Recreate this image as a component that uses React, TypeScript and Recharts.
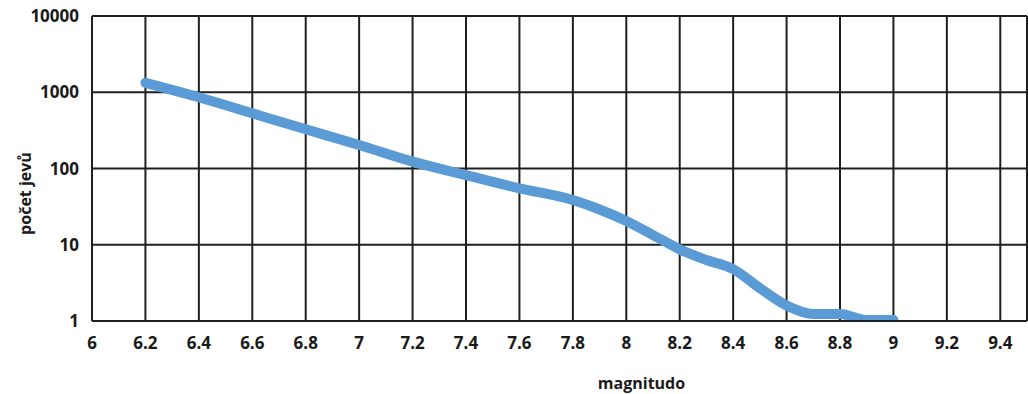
import { LineChart, Line, XAxis, YAxis, CartesianGrid } from "recharts";

const magnitudes = [6.2, 6.4, 6.6, 6.8, 7.0, 7.2, 7.4, 7.6, 7.8, 7.9, 8.0, 8.1, 8.2, 8.3, 8.4, 8.5, 8.6, 8.7, 8.8, 8.9, 9.0];
const eventCounts = [1330, 860, 530, 327, 203, 123, 82, 55, 38.6, 29, 20.5, 13.4, 8.7, 6.3, 4.8, 2.7, 1.6, 1.24, 1.24, 1.03, 1.03];

const xTicks = [6, 6.2, 6.4, 6.6, 6.8, 7, 7.2, 7.4, 7.6, 7.8, 8, 8.2, 8.4, 8.6, 8.8, 9, 9.2, 9.4];
const yTicks = [1, 10, 100, 1000, 10000];

const GRID = "#1f1f1f";
const TEXT = "#1a1a1a";
const LINE_COLOR = "#5B9BD5";
const FONT = "'Open Sans', sans-serif";

const data = magnitudes.map((m, i) => ({ m, n: eventCounts[i] }));

export default function App() {
  return (
    <div style={{ position: "absolute", left: 0, top: 0, background: "#fff" }}>
      <LineChart
        width={1028}
        height={394}
        data={data}
        margin={{ top: 16, right: 1, bottom: 0, left: 0 }}
      >
        <CartesianGrid stroke={GRID} strokeWidth={2} />
        <XAxis
          dataKey="m"
          type="number"
          domain={[6, 9.5]}
          ticks={xTicks}
          allowDataOverflow
          height={73}
          tickSize={0}
          tickMargin={16}
          axisLine={{ stroke: GRID, strokeWidth: 2 }}
          tickLine={false}
          tick={{ fontSize: 17, fontWeight: 700, fill: TEXT, fontFamily: FONT }}
          label={(p: any) => {
            const vb = p.viewBox;
            return (
              <text
                x={vb.x + vb.width / 2 + 82}
                y={vb.y + vb.height - 5}
                textAnchor="middle"
                fontSize={16}
                fontWeight={700}
                fill={TEXT}
                fontFamily={FONT}
              >
                magnitudo
              </text>
            );
          }}
        />
        <YAxis
          scale="log"
          domain={[1, 10000]}
          ticks={yTicks}
          allowDataOverflow
          width={92}
          tickSize={0}
          tickMargin={13}
          axisLine={{ stroke: GRID, strokeWidth: 2 }}
          tickLine={false}
          tick={{ fontSize: 17, fontWeight: 700, fill: TEXT, fontFamily: FONT }}
          label={(p: any) => {
            const vb = p.viewBox;
            const cx = vb.x + 25;
            const cy = vb.y + vb.height / 2 + 25;
            return (
              <text
                x={cx}
                y={cy}
                transform={`rotate(-90 ${cx} ${cy})`}
                textAnchor="middle"
                dominantBaseline="central"
                fontSize={16}
                fontWeight={700}
                fill={TEXT}
                fontFamily={FONT}
              >
                počet jevů
              </text>
            );
          }}
        />
        <Line
          dataKey="n"
          type="monotone"
          stroke={LINE_COLOR}
          strokeWidth={10}
          strokeLinecap="round"
          dot={false}
          isAnimationActive={false}
        />
      </LineChart>
    </div>
  );
}
